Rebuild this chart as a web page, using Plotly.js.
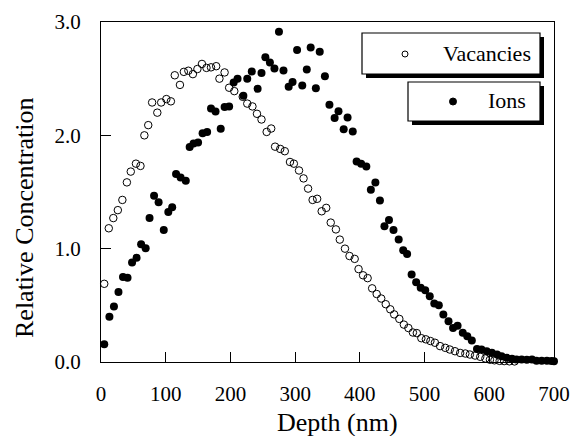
<!DOCTYPE html>
<html>
<head>
<meta charset="utf-8">
<script src="https://cdn.plot.ly/plotly-3.0.1.min.js"></script>
<style>html,body{margin:0;padding:0;background:#fff;}#chart{width:572px;height:436px;}</style>
</head>
<body>
<div id="chart"></div>
<script>
// ---- Data ----
const depthVac = [5, 12, 19, 26, 33, 40, 46, 54, 61, 67, 73, 79, 87, 93, 101, 108, 114, 122, 128, 135,
  142, 149, 156, 163, 170, 178, 183, 191, 198, 206, 219, 226, 234, 241, 248, 256, 263, 269, 277, 284,
  292, 298, 306, 313, 320, 327, 334, 341, 348, 355, 363, 369, 377, 384, 392, 398, 405, 412, 419, 426,
  433, 440, 447, 453, 461, 468, 475, 482, 488, 495, 502, 509, 516, 524, 532, 539, 547, 555, 563, 570,
  578, 586, 594, 601, 608, 616, 623, 631, 639];
const vacancies = [0.69, 1.18, 1.27, 1.34, 1.43, 1.585, 1.68, 1.75, 1.73, 2.00, 2.09, 2.29, 2.20, 2.29, 2.32, 2.30, 2.53, 2.445, 2.56, 2.57,
  2.54, 2.585, 2.63, 2.595, 2.60, 2.61, 2.50, 2.555, 2.42, 2.39, 2.34, 2.28, 2.255, 2.19, 2.14, 2.03, 2.06, 1.90, 1.88, 1.86,
  1.765, 1.75, 1.69, 1.62, 1.53, 1.43, 1.44, 1.33, 1.36, 1.23, 1.17, 1.08, 1.00, 0.935, 0.91, 0.82, 0.765, 0.74, 0.65, 0.60,
  0.56, 0.51, 0.465, 0.42, 0.38, 0.33, 0.30, 0.26, 0.255, 0.21, 0.20, 0.185, 0.17, 0.14, 0.125, 0.11, 0.095, 0.08, 0.075, 0.066,
  0.057, 0.046, 0.031, 0.02, 0.015, 0.01, 0.008, 0.006, 0.005];

const depthIon = [5, 13, 20, 27, 34, 41, 48, 55, 62, 69, 75, 82, 89, 97, 104, 110, 116, 123, 131, 137,
  143, 150, 157, 164, 170, 177, 185, 191, 198, 205, 211, 220, 226, 233, 242, 248, 254, 261, 268, 275,
  282, 290, 296, 303, 311, 318, 324, 332, 338, 346, 353, 361, 367, 375, 381, 389, 395, 402, 410, 417,
  424, 431, 438, 445, 452, 460, 467, 473, 480, 487, 494, 501, 508, 515, 522, 529, 537, 544, 551, 559,
  566, 573, 581, 588, 596, 604, 612, 619, 627, 635, 642, 650, 658, 666, 673, 681, 689, 696, 700];
const ions = [0.157, 0.40, 0.49, 0.617, 0.749, 0.744, 0.879, 0.92, 1.04, 1.003, 1.27, 1.468, 1.409, 1.164, 1.323, 1.365, 1.659, 1.627, 1.60, 1.898,
  1.927, 1.936, 2.019, 2.03, 2.237, 2.21, 2.057, 2.25, 2.254, 2.466, 2.50, 2.35, 2.50, 2.563, 2.41, 2.55, 2.69, 2.643, 2.59, 2.913,
  2.572, 2.428, 2.47, 2.754, 2.44, 2.58, 2.776, 2.416, 2.737, 2.522, 2.269, 2.154, 2.213, 2.054, 2.157, 2.034, 1.769, 1.75, 1.724, 1.52,
  1.583, 1.424, 1.197, 1.253, 1.164, 1.08, 0.985, 0.952, 0.773, 0.703, 0.655, 0.632, 0.58, 0.517, 0.50, 0.42, 0.36, 0.30, 0.32, 0.258,
  0.228, 0.19, 0.115, 0.11, 0.095, 0.081, 0.066, 0.051, 0.037, 0.028, 0.022, 0.022, 0.019, 0.022, 0.012, 0.012, 0.012, 0.008, 0.006];

const xTicks = [0, 100, 200, 300, 400, 500, 600, 700];
const yTicks = [0, 1, 2, 3];
const yTickText = ['0.0', '1.0', '2.0', '3.0'];
const seriesNames = ['Vacancies', 'Ions'];
const xTitle = 'Depth (nm)';
const yTitle = 'Relative Concentration';

// ---- Layout helpers ----
const W = 572, H = 436;
const M = {l: 101, r: 18, t: 22, b: 74};
const pw = W - M.l - M.r, ph = H - M.t - M.b;
const px = x => (x - M.l) / pw;
const py = y => (H - M.b - y) / ph;
const FONT = '"Liberation Serif", "Times New Roman", serif';

const traces = [
  {x: depthVac, y: vacancies, name: seriesNames[0], type: 'scatter', mode: 'markers', cliponaxis: false,
   marker: {symbol: 'circle-open', size: 7.5, color: '#000', line: {width: 1, color: '#000'}}},
  {x: depthIon, y: ions, name: seriesNames[1], type: 'scatter', mode: 'markers', cliponaxis: false,
   marker: {symbol: 'circle', size: 8, color: '#000'}}
];

function box(x0, y0, x1, y1) {
  return [
    {type: 'rect', xref: 'paper', yref: 'paper', x0: px(x0 + 4), x1: px(x1 + 4), y0: py(y0 + 4), y1: py(y1 + 4),
     fillcolor: '#000', line: {width: 0}},
    {type: 'rect', xref: 'paper', yref: 'paper', x0: px(x0), x1: px(x1), y0: py(y0), y1: py(y1),
     fillcolor: '#fff', line: {width: 1.2, color: '#000'}}
  ];
}
function dot(cx, cy, r, filled) {
  return {type: 'circle', xref: 'paper', yref: 'paper', xsizemode: 'pixel', ysizemode: 'pixel',
    xanchor: px(cx), yanchor: py(cy), x0: -r, x1: r, y0: -r, y1: r,
    fillcolor: filled ? '#000' : 'rgba(0,0,0,0)', line: {width: 1, color: '#000'}};
}

const shapes = [].concat(
  box(362, 33, 540, 74),
  box(408, 82, 540, 121),
  [dot(405, 54, 3, false), dot(453, 101.5, 3.5, true)]
);

const annotations = [
  {text: seriesNames[0], xref: 'paper', yref: 'paper', x: px(533), y: py(53), xanchor: 'right', yanchor: 'middle',
   showarrow: false, font: {family: FONT, size: 22, color: '#000'}},
  {text: seriesNames[1], xref: 'paper', yref: 'paper', x: px(528), y: py(101), xanchor: 'right', yanchor: 'middle',
   showarrow: false, font: {family: FONT, size: 22, color: '#000'}},
  {text: xTitle, xref: 'paper', yref: 'paper', x: px(337), y: py(422), xanchor: 'center', yanchor: 'middle',
   showarrow: false, font: {family: FONT, size: 26, color: '#000'}},
  {text: yTitle, xref: 'paper', yref: 'paper', x: px(25), y: py(218), xanchor: 'center', yanchor: 'middle',
   textangle: -90, showarrow: false, font: {family: FONT, size: 26, color: '#000'}}
];

const layout = {
  width: W, height: H,
  margin: M,
  paper_bgcolor: '#fff', plot_bgcolor: '#fff',
  showlegend: false,
  font: {family: FONT, size: 21, color: '#000'},
  xaxis: {range: [0, 700], tickvals: xTicks, ticktext: xTicks.map(String), ticks: 'inside', ticklen: 10,
    tickcolor: '#000', tickwidth: 1, showline: true, linecolor: '#000', linewidth: 1, mirror: true,
    showgrid: false, zeroline: false, ticklabelstandoff: 13, tickfont: {family: FONT, size: 21, color: '#000'}},
  yaxis: {range: [0, 3], tickvals: yTicks, ticktext: yTickText, ticks: 'inside', ticklen: 10,
    tickcolor: '#000', tickwidth: 1, showline: true, linecolor: '#000', linewidth: 1, mirror: true,
    showgrid: false, zeroline: false, ticklabelstandoff: 15, tickfont: {family: FONT, size: 21, color: '#000'}},
  shapes: shapes,
  annotations: annotations
};

Plotly.newPlot('chart', traces, layout, {staticPlot: true, displayModeBar: false});
</script>
</body>
</html>
